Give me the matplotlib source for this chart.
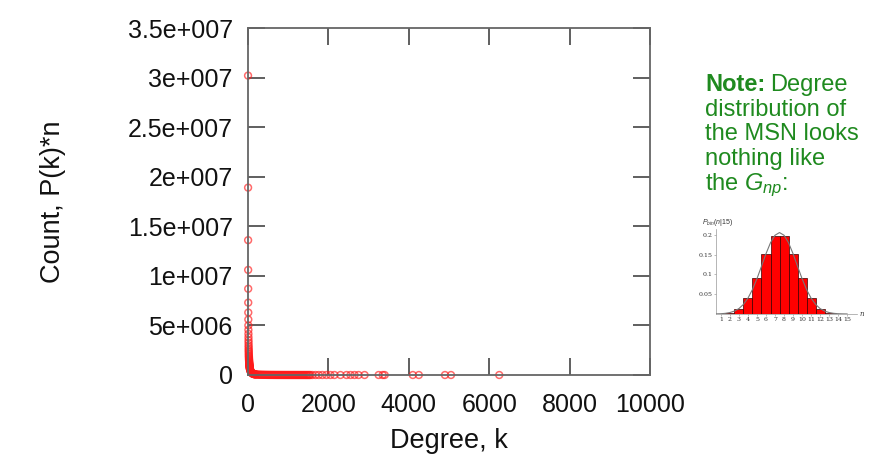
import matplotlib
matplotlib.use("Agg")
import matplotlib.pyplot as plt
from matplotlib.ticker import FixedLocator, FixedFormatter

# ---------------- data ----------------
# head of the degree distribution (k, count)
head_k = [1, 2, 3, 4, 5, 6, 7, 8, 9, 10, 11, 12, 13, 14, 15, 16, 17, 18, 19, 20,
          21, 22, 23, 24, 25, 26, 27, 28, 29, 30, 31, 32, 33, 34, 35, 36, 37, 38,
          39, 40, 42, 44, 46, 48, 50, 55, 60, 65, 70, 75, 80, 90, 100, 110, 120,
          130, 140, 150, 160, 170, 180, 190, 200]
head_n = [30.2e6, 18.9e6, 13.6e6, 10.6e6, 8.7e6, 7.3e6, 6.3e6, 5.6e6, 5.0e6, 4.55e6,
          4.15e6, 3.8e6, 3.5e6, 3.25e6, 3.0e6, 2.8e6, 2.6e6, 2.45e6, 2.3e6, 2.15e6,
          2.02e6, 1.9e6, 1.8e6, 1.7e6, 1.6e6, 1.52e6, 1.44e6, 1.37e6, 1.3e6, 1.24e6,
          1.18e6, 1.13e6, 1.08e6, 1.03e6, 0.99e6, 0.95e6, 0.91e6, 0.87e6, 0.84e6,
          0.81e6, 0.75e6, 0.70e6, 0.65e6, 0.61e6, 0.57e6, 0.49e6, 0.43e6, 0.38e6,
          0.34e6, 0.30e6, 0.27e6, 0.22e6, 0.18e6, 0.15e6, 0.13e6, 0.11e6, 0.10e6,
          0.09e6, 0.08e6, 0.07e6, 0.065e6, 0.06e6, 0.055e6]
# dense body along the bottom
body_k = [225, 250, 275, 300, 325, 350, 375, 400, 425, 450, 475, 500, 525, 550, 575,
          600, 625, 650, 675, 700, 725, 750, 775, 800, 825, 850, 875, 900, 925, 950,
          975, 1000, 1025, 1050, 1075, 1100, 1125, 1150, 1175, 1200, 1225, 1250, 1275,
          1300, 1325, 1350, 1375, 1400, 1425, 1450, 1475, 1500, 1525, 1550]
body_n = [42000, 36000, 31000, 27000, 24000, 21000, 19000, 17000, 15000, 13500,
          12000, 11000, 10000, 9000, 8200, 7500, 6800, 6200, 5700, 5200, 4800, 4400,
          4000, 3700, 3400, 3100, 2900, 2700, 2500, 2300, 2100, 2000, 1800, 1700, 1600,
          1500, 1400, 1300, 1200, 1100, 1000, 950, 900, 850, 800, 750, 700, 650, 600,
          560, 520, 480, 450, 420]
# sparse tail
tail_k = [1600, 1680, 1760, 1850, 1950, 2050, 2150, 2300, 2450, 2550, 2650, 2750,
          2900, 3250, 3350, 3400, 4100, 4250, 4900, 5050, 6250]
tail_n = [300, 260, 220, 180, 150, 120, 100, 80, 60, 50, 40, 30, 25, 10, 8, 6, 4,
          3, 2, 1, 1]

x_ticks = [0, 2000, 4000, 6000, 8000, 10000]
y_ticks = [0, 5e6, 1e7, 1.5e7, 2e7, 2.5e7, 3e7, 3.5e7]
y_tick_labels = ["0", "5e+006", "1e+007", "1.5e+007", "2e+007", "2.5e+007",
                 "3e+007", "3.5e+007"]

# inset: binomial distribution P_bin(n|15)
inset_n = list(range(1, 16))
inset_p = [0.0005, 0.0032, 0.0139, 0.0417, 0.0916, 0.1527, 0.1964, 0.1964,
           0.1527, 0.0916, 0.0417, 0.0139, 0.0032, 0.0005, 0.00003]
curve_x = [0.5, 1, 1.5, 2, 2.5, 3, 3.5, 4, 4.5, 5, 5.5, 6, 6.5, 7, 7.5, 8, 8.5,
           9, 9.5, 10, 10.5, 11, 11.5, 12, 12.5, 13, 13.5, 14, 14.5, 15]
curve_y = [0.0003, 0.0007, 0.0017, 0.0037, 0.0074, 0.0138, 0.0244, 0.0402, 0.062,
           0.0895, 0.1208, 0.1526, 0.1803, 0.1992, 0.206, 0.1992, 0.1803, 0.1526,
           0.1208, 0.0895, 0.062, 0.0402, 0.0244, 0.0138, 0.0074, 0.0037, 0.0017,
           0.0007, 0.0003, 0.0001]
inset_yticks = [0.05, 0.1, 0.15, 0.2]
inset_ylabels = ["0.05", "0.1", "0.15", "0.2"]

# ---------------- figure ----------------
plt.rcParams['font.family'] = ['Liberation Sans', 'DejaVu Sans']
plt.rcParams['mathtext.fontset'] = 'custom'
plt.rcParams['mathtext.rm'] = 'Liberation Sans'
plt.rcParams['mathtext.it'] = 'Liberation Sans:italic'

W, H = 872, 471
fig = plt.figure(figsize=(W / 100, H / 100), dpi=100)

def fx(px):
    return px / W

def fy(py):
    return (H - py) / H

ax = fig.add_axes([fx(248), fy(375), (650 - 248) / W, (375 - 28) / H])

ks = head_k + body_k + tail_k
ns = head_n + body_n + tail_n
ax.scatter(ks, ns, s=24, facecolors='none', edgecolors=(1.0, 0.1, 0.1, 0.65),
           linewidths=1.1, zorder=2, clip_on=False)

ax.set_xlim(0, 10000)
ax.set_ylim(0, 3.5e7)
ax.xaxis.set_major_locator(FixedLocator(x_ticks))
ax.yaxis.set_major_locator(FixedLocator(y_ticks))
ax.yaxis.set_major_formatter(FixedFormatter(y_tick_labels))
ax.tick_params(direction='in', length=12.5, width=1.2, color='#444444',
               top=True, right=True, labelsize=18, labelcolor='#111111')
ax.tick_params(axis='x', pad=13)
ax.tick_params(axis='y', pad=11)
for sp in ax.spines.values():
    sp.set_color('#666666')
    sp.set_linewidth(1.3)
    sp.set_zorder(3)

ax.set_xlabel("Degree, k", fontsize=19.5, color='#111111')
ax.set_ylabel("Count, P(k)*n", fontsize=19.5, color='#111111')
ax.xaxis.set_label_coords(0.5, -0.152)
ax.yaxis.set_label_coords(-0.452, 0.5)

# ---------------- note text ----------------
green = '#1f8a1f'
t1 = fig.text(fx(705), fy(91), "Note:", fontsize=17, fontweight='bold',
              color=green, va='baseline', ha='left')
fig.canvas.draw()
bb = t1.get_window_extent()
fig.text(bb.x1 / W + 5 / W, fy(91), "Degree", fontsize=17, color=green,
         va='baseline', ha='left')
lines = ["distribution of", "the MSN looks", "nothing like", r"the $G_{np}$:"]
for i, s in enumerate(lines):
    fig.text(fx(705), fy(115.5 + 24.8 * i), s, fontsize=17, color=green,
             va='baseline', ha='left')

# ---------------- inset ----------------
ia = fig.add_axes([fx(716), fy(314), (857 - 716) / W, (314 - 229) / H])
ia.bar(inset_n, inset_p, width=1.0, color='#ff0000', edgecolor='#3a0000',
       linewidth=0.5, zorder=2)
ia.plot(curve_x, curve_y, color='#777777', lw=0.8, zorder=3)
ia.set_xlim(0.45, 16.1)
ia.set_ylim(0, 0.215)
ia.xaxis.set_major_locator(FixedLocator(inset_n))
ia.yaxis.set_major_locator(FixedLocator(inset_yticks))
ia.yaxis.set_major_formatter(FixedFormatter(inset_ylabels))
ia.tick_params(labelsize=4.5, length=1.5, width=0.4, pad=1, color='#888888',
               labelcolor='#333333')
for lab in ia.get_xticklabels() + ia.get_yticklabels():
    lab.set_family('DejaVu Serif')
for k in ('top', 'right'):
    ia.spines[k].set_visible(False)
for k in ('left', 'bottom'):
    ia.spines[k].set_color('#999999')
    ia.spines[k].set_linewidth(0.5)
fig.text(fx(862), fy(314), "n", fontsize=5, style='italic', family='DejaVu Serif',
         color='#333333', ha='center', va='center')
fig.text(fx(702), fy(222), r"$P_{bin}(n|15)$", fontsize=5, color='#333333',
         ha='left', va='center')

fig.savefig("out.png", dpi=100)
